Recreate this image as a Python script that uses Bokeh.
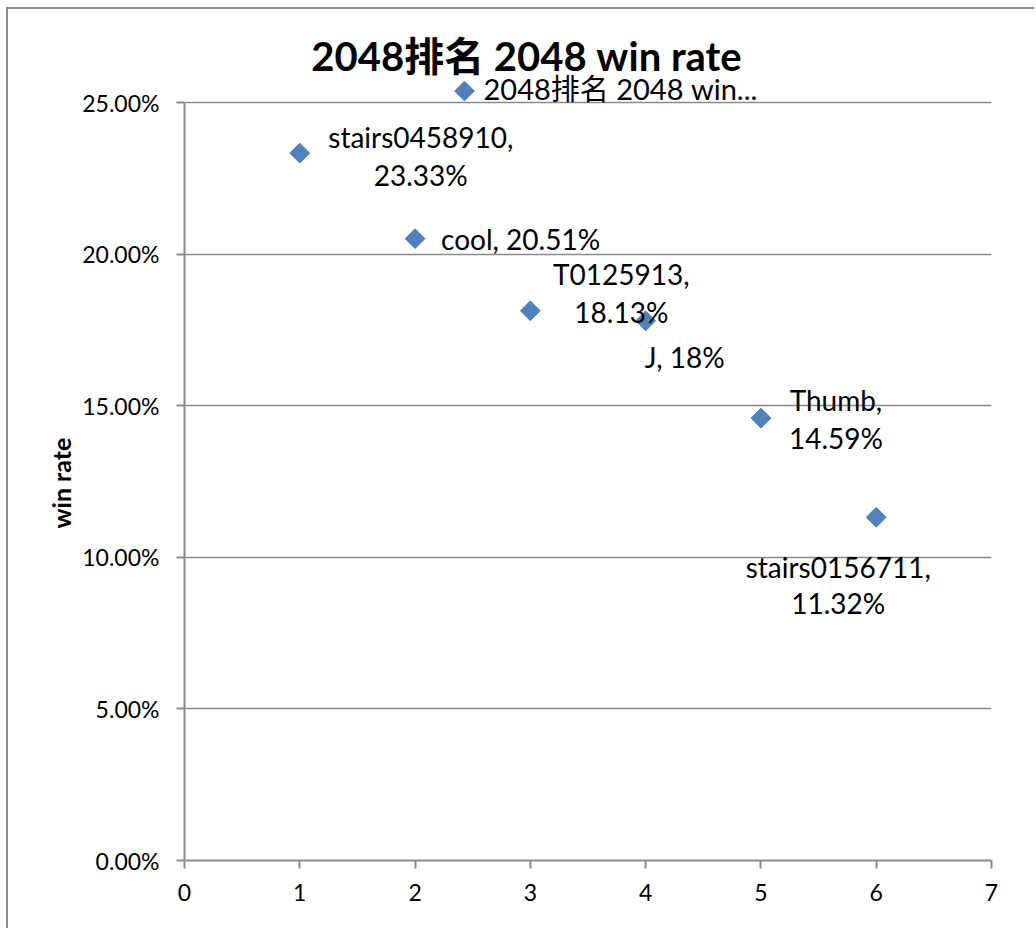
import math
from bokeh.plotting import figure
from bokeh.models import Label, NumeralTickFormatter, Range1d, Title
from bokeh.embed import file_html
from bokeh.resources import INLINE

# ---- data ----
names = ["stairs0458910", "cool", "T0125913", "J", "Thumb", "stairs0156711"]
x_vals = [1, 2, 3, 4, 5, 6]
win_rate = [0.2333, 0.2051, 0.1813, 0.178, 0.1459, 0.1132]
value_text = ["23.33%", "20.51%", "18.13%", "18%", "14.59%", "11.32%"]
x_ticks = [0, 1, 2, 3, 4, 5, 6, 7]
y_ticks = [0.0, 0.05, 0.10, 0.15, 0.20, 0.25]
title_text = "2048排名 2048 win rate"
series_name = "2048排名 2048 win..."
y_label = "win rate"

# ---- label layout (pixel offsets from each point; wrapped = two lines) ----
# (wrapped, align, dx, dy_line1, dy_line2)   dy positive = downwards
label_layout = [
    (True, "center", 121, -16, 22),
    (False, "left", 26, 0, 0),
    (True, "center", 91, -37, 1),
    (False, "center", 39, 36, 0),
    (True, "center", 75, -18, 20),
    (True, "center", -38, 50, 86),
]

FONT = "Lato, 'Noto Sans CJK SC', sans-serif"
GRAY = "#8a8a8a"
BLUE = "#4F81BD"

# geometry (pixels)
W, H = 1028, 921
MB_LEFT, MB_RIGHT, MB_BOTTOM = 176, 45, 70
AXIS_PX = 758            # pixel height of the 0..25% axis
FRAME_PX = H - MB_BOTTOM  # frame reaches the top of the canvas
y_min, y_max = y_ticks[0], y_ticks[-1]
y_top = y_min + (y_max - y_min) * FRAME_PX / AXIS_PX

p = figure(width=W, height=H, output_backend="svg", toolbar_location=None, title=None,
           x_range=Range1d(x_ticks[0], x_ticks[-1]), y_range=Range1d(y_min, y_top),
           min_border_left=MB_LEFT, min_border_right=MB_RIGHT,
           min_border_top=0, min_border_bottom=MB_BOTTOM)
p.styles = {"margin-left": "6px", "margin-top": "7px",
            "border-left": f"2px solid {GRAY}", "border-top": f"2px solid {GRAY}"}
p.background_fill_color = "white"
p.border_fill_color = "white"
p.outline_line_color = None

p.xaxis.ticker = x_ticks
p.yaxis.ticker = y_ticks
p.yaxis.bounds = (y_min, y_max)
p.yaxis.formatter = NumeralTickFormatter(format="0.00%")
for ax in (p.xaxis, p.yaxis):
    ax.axis_line_color = GRAY
    ax.axis_line_width = 2
    ax.major_tick_line_color = GRAY
    ax.major_tick_line_width = 2
    ax.major_tick_out = 8
    ax.major_tick_in = 0
    ax.minor_tick_out = 0
    ax.minor_tick_in = 0
    ax.major_label_text_font = FONT
    ax.major_label_text_font_size = "23px"
    ax.major_label_text_color = "black"
p.yaxis.major_label_standoff = 17
p.xaxis.major_label_standoff = 15

# y axis title, positioned along the 0..25% span
p.add_layout(Title(text=y_label, align="left", offset=332, standoff=8,
                   text_font=FONT, text_font_style="bold", text_font_size="25px",
                   text_color="black"), "left")

p.xgrid.visible = False
p.ygrid.ticker = y_ticks
p.ygrid.grid_line_color = GRAY
p.ygrid.grid_line_width = 1.5

p.scatter(x_vals, win_rate, marker="square", angle=math.pi / 4, size=14,
          fill_color=BLUE, line_color="#4A7EBB", line_width=1)

for xv, yv, nm, vt, (wrapped, align, dx, dy1, dy2) in zip(
        x_vals, win_rate, names, value_text, label_layout):
    if wrapped:
        lines = [(nm + ",", dy1), (vt, dy2)]
    else:
        lines = [(f"{nm}, {vt}", dy1)]
    for txt, dy in lines:
        p.add_layout(Label(x=xv, y=yv, x_offset=dx, y_offset=-dy, text=txt,
                           text_align=align, text_baseline="middle",
                           text_font=FONT, text_font_size="28px", text_color="black"))

# chart title (screen units relative to the plot frame, bottom-left origin)
p.add_layout(Label(x=342, y=805, x_units="screen", y_units="screen", text=title_text,
                   text_align="center", text_baseline="middle", text_font=FONT,
                   text_font_style="bold", text_font_size="40px", text_color="black"))
# series legend entry
p.add_layout(Label(x=280, y=772, x_units="screen", y_units="screen", text="\u25C6",
                   text_align="center", text_baseline="middle", text_font="DejaVu Sans",
                   text_font_size="27px", text_color=BLUE))
p.add_layout(Label(x=299, y=772, x_units="screen", y_units="screen", text=series_name,
                   text_align="left", text_baseline="middle", text_font=FONT,
                   text_font_size="29px", text_color="black"))

open("out.html", "w").write(file_html(p, INLINE))
